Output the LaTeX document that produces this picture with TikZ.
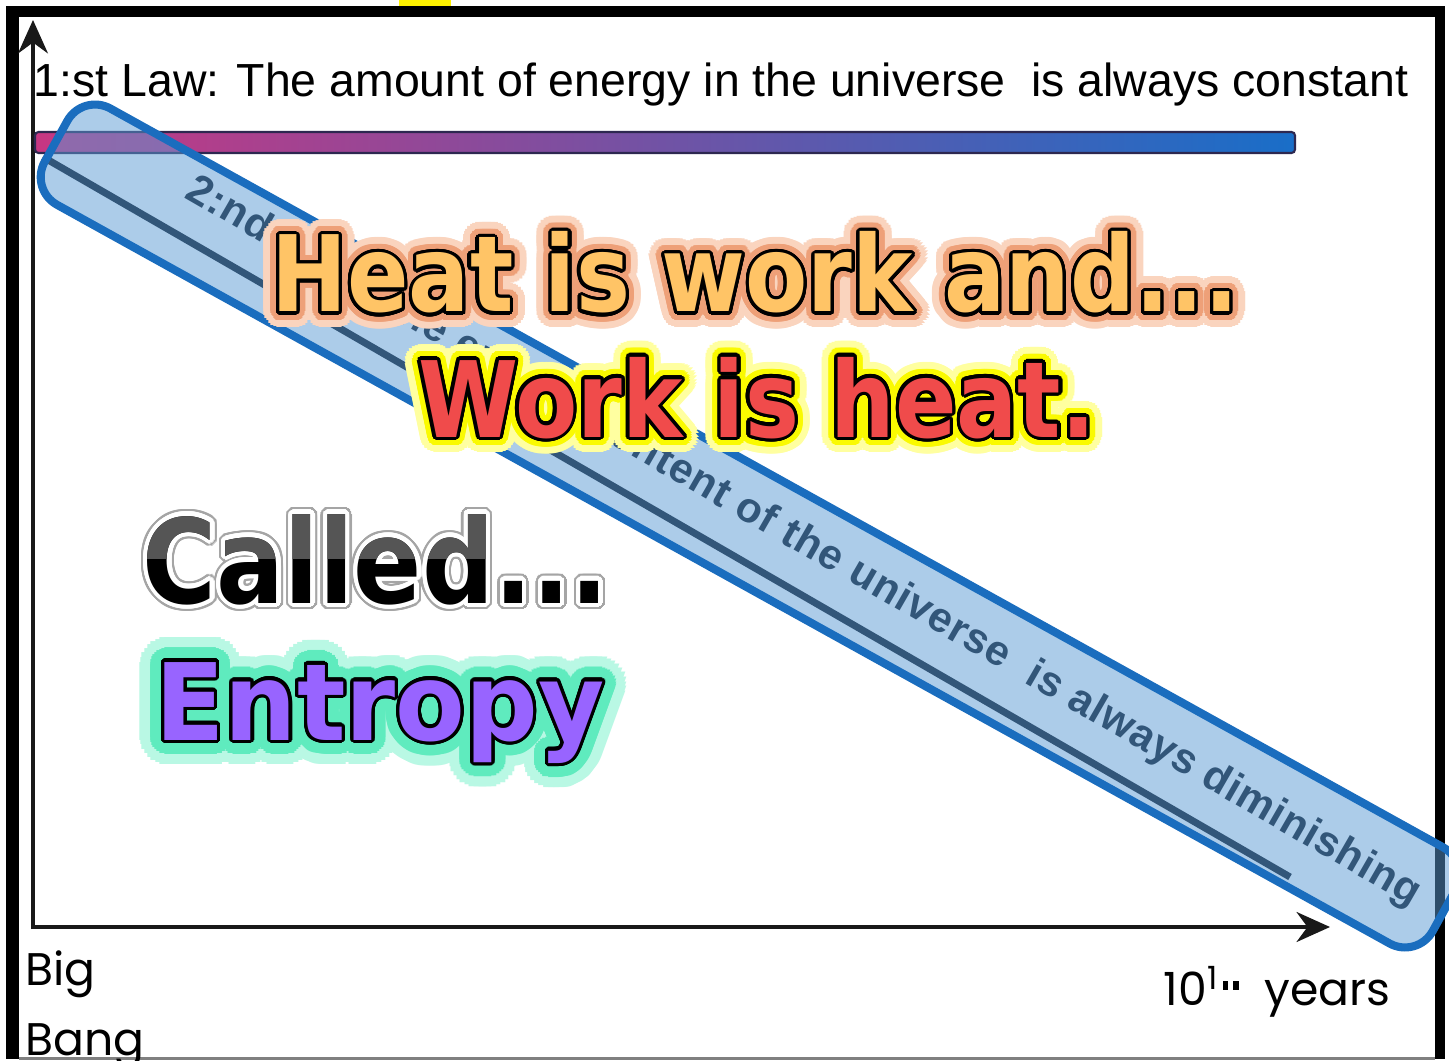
\documentclass[tikz,border=0pt]{standalone}
\usepackage{fontspec}
\usepackage[copies]{contour}
\usetikzlibrary{positioning,arrows.meta}

\setmainfont{Liberation Sans}
\newfontfamily\lawfont{Liberation Sans}
\newfontfamily\bigfont{DejaVu Sans}[FakeStretch=0.86]
\newfontfamily\widefont{DejaVu Sans}[FakeStretch=0.95]
\newfontfamily\axisfont{Poppins}

\definecolor{barpink}{RGB}{200,55,130}
\definecolor{barpurple}{RGB}{125,85,175}
\definecolor{barblue}{RGB}{25,110,200}
\definecolor{barline}{RGB}{45,40,80}
\definecolor{linenavy}{RGB}{10,18,30}
\definecolor{bandblue}{RGB}{26,109,190}
\definecolor{bandfill}{RGB}{91,155,213}
\definecolor{heatfill}{RGB}{255,196,102}
\definecolor{heatinner}{RGB}{238,160,120}
\definecolor{heatouter}{RGB}{250,212,190}
\definecolor{workfill}{RGB}{240,75,75}
\definecolor{workinner}{RGB}{250,250,0}
\definecolor{workouter}{RGB}{255,255,160}
\definecolor{calledtop}{RGB}{85,85,85}
\definecolor{calledrim}{RGB}{165,165,165}
\definecolor{entfill}{RGB}{152,100,255}
\definecolor{entinner}{RGB}{95,235,190}
\definecolor{entouter}{RGB}{185,248,228}

\contournumber{32}

% outer colour, inner colour, fill, outer length, inner length, text
\newcommand\glow[6]{%
  \rlap{\contourlength{#4}\contour{#1}{\color{#1}#6}}%
  \rlap{\contourlength{#5}\contour{#2}{\color{#2}#6}}%
  {\contourlength{0.9pt}\contour{black}{\color{#3}#6}}}

\begin{document}
\begin{tikzpicture}[x=0.01cm, y=-0.01cm,
    axis/.style={draw=black!90, -{Stealth[length=9.5pt,width=8.5pt]}},
    lawtext/.style={inner sep=0pt, font=\lawfont\fontsize{13.2}{15}\selectfont},
    slopetext/.style={inner sep=0pt, text=linenavy, font=\lawfont\bfseries\addfontfeature{LetterSpace=2}\fontsize{12}{14}\selectfont},
    slogan/.style={inner sep=0pt, anchor=base},
    axislabel/.style={inner sep=0pt, font=\axisfont\fontsize{13}{15}\selectfont}]
  \useasboundingbox (0,0) rectangle (1449,1061);

  % frame
  \fill[yellow] (399,0) rectangle (451,6);
  \fill[black] (6,6) rectangle (1445,1059);
  \fill[white] (19,17) rectangle (1435,1058);
  \draw[gray, line width=0.6pt] (19,1058.5) -- (1435,1058.5);

  % axes
  \coordinate (origin) at (33,929);
  \coordinate (ytop) at (33,20);
  \coordinate (xend) at (1330,927);
  \draw[axis, line width=0.9pt] (origin) -- (ytop);
  \draw[axis, line width=1.2pt] (33,927) -- (xend);

  % first law
  \node (first) [lawtext, anchor=base] at (721,97) {1:st Law: The amount of energy in the universe~ is always constant};
  \shadedraw[left color=barpink, middle color=barpurple, right color=barblue, draw=barline, line width=0.6pt, rounded corners=1pt] (35,132) rectangle (1295,153);

  % second law
  \coordinate (start) at (43,157);
  \coordinate (stop) at (1290,877);
  \draw[line width=2pt, draw=linenavy] (start) -- (stop);
  \node (second) [slopetext, rotate=-30, anchor=base west] at (183,197) {2:nd Law: The energy content of the universe~ is always diminishing};

  \node (band) [draw=bandblue, line width=2.3pt, fill=bandfill, fill opacity=0.5, rounded corners=9pt, rotate=-29, minimum width=15.86cm, minimum height=1.1cm, inner sep=0pt] at (750,526) {};

  % slogans
  \node (heat) [slogan, font=\bigfont\bfseries\fontsize{30}{32}\selectfont] at (755,312) {\glow{heatouter}{heatinner}{heatfill}{4.5pt}{2.5pt}{Heat is work and...}};
  \node (work) [slogan, font=\bigfont\bfseries\fontsize{30}{32}\selectfont] at (757,437) {\glow{workouter}{workinner}{workfill}{4.5pt}{2.5pt}{Work is heat.}};

  \node (called) [slogan, font=\bigfont\bfseries\fontsize{33.3}{35}\selectfont] at (376,603) {\rlap{\contourlength{1.9pt}\contour{calledrim}{\color{calledrim}Called...}}\contourlength{1.2pt}\contour{white}{\color{black}Called...}};
  \begin{scope}
    \clip (100,480) rectangle (640,558);
    \node (calledupper) [slogan, font=\bigfont\bfseries\fontsize{33.3}{35}\selectfont, text=calledtop] at (376,603) {Called...};
  \end{scope}
  \node (entropy) [slogan, font=\widefont\bfseries\fontsize{30.4}{32}\selectfont] at (380,740) {\glow{entouter}{entinner}{entfill}{7pt}{4pt}{Entropy}};

  % axis labels
  \node (big) [axislabel, anchor=base west] at (25,985) {Big};
  \node (bang) [axislabel, anchor=base west] at (25,1055) {Bang};
  \node (years) [axislabel, anchor=base west] at (1163,1005) {10\textsuperscript{1\,\rule{1.5pt}{2.5pt}\,\rule{1.5pt}{2.5pt}}\ \ years};
\end{tikzpicture}
\end{document}
